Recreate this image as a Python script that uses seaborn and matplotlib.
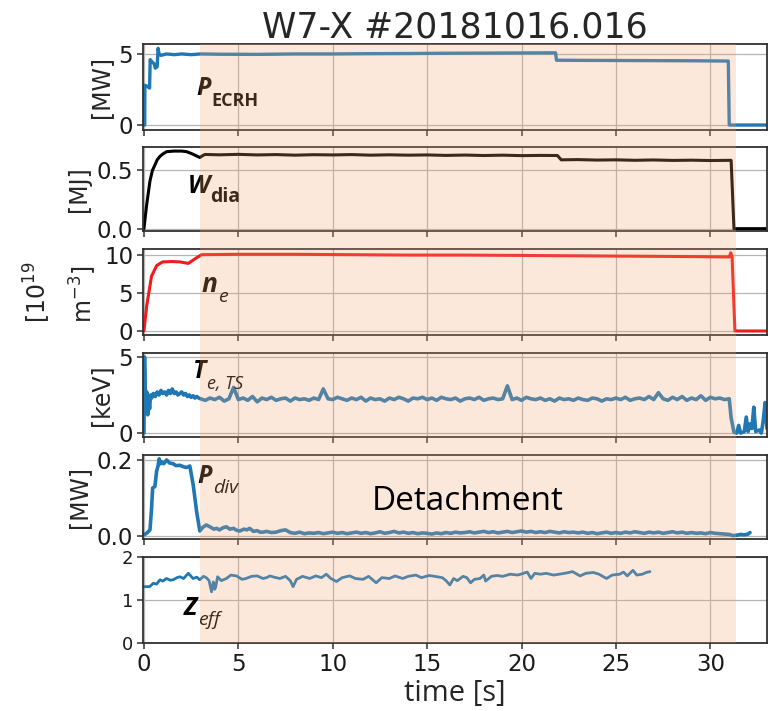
import numpy as np
import matplotlib
matplotlib.use("Agg")
import matplotlib.pyplot as plt
import matplotlib.transforms as mtransforms
from matplotlib.patches import Rectangle
import seaborn as sns

# ---------------- data ----------------
shot_title = "W7-X #20181016.016"
time_ticks = [0, 5, 10, 15, 20, 25, 30]
detach_start = 2.96
detach_end = 31.37

# ECRH heating power [MW]
t_ecrh = [0, 0.04, 0.05, 0.2, 0.3, 0.33, 0.45, 0.55, 0.6, 0.7, 0.75, 0.8, 0.9, 1.2, 1.6,
          2.0, 2.5, 3.0, 4, 6, 8, 10, 12, 14, 16, 18, 20, 21.8, 21.85, 23, 25, 27, 29,
          30.95, 31.0, 33]
p_ecrh = [0, 0.0, 2.8, 2.7, 2.6, 4.6, 4.4, 4.3, 4.0, 4.1, 5.4, 5.0, 4.9, 5.0, 4.95,
          5.0, 4.95, 5.0, 4.98, 4.97, 5.0, 5.0, 5.02, 5.03, 5.05, 5.06, 5.07, 5.08, 4.56,
          4.55, 4.54, 4.53, 4.52, 4.5, 0.0, 0.0]

# diamagnetic energy [MJ]
t_wdia = [0, 0.14, 0.32, 0.45, 0.58, 0.7, 0.85, 1.0, 1.2, 1.6, 2.0, 2.26, 2.5, 2.7, 2.96,
          3.1, 3.23, 4, 5, 6, 7, 8, 9, 10, 11, 12, 13, 14, 15, 16, 17, 18, 19, 20, 21,
          21.9, 22.1, 23, 24, 25, 26, 27, 28, 29, 30, 31.1, 31.25, 33]
w_dia = [0, 0.2, 0.41, 0.5, 0.545, 0.59, 0.62, 0.64, 0.66, 0.665, 0.665, 0.66, 0.645, 0.63,
         0.61, 0.625, 0.636, 0.633, 0.637, 0.632, 0.635, 0.63, 0.634, 0.632, 0.635, 0.63,
         0.633, 0.63, 0.632, 0.628, 0.631, 0.627, 0.63, 0.626, 0.628, 0.627, 0.59, 0.592,
         0.588, 0.59, 0.586, 0.589, 0.585, 0.587, 0.584, 0.586, 0.0, 0.0]

# line-integrated electron density [1e19 m^-3]
t_ne = [0, 0.14, 0.4, 0.67, 0.85, 1.0, 1.5, 1.9, 2.35, 2.7, 3.05, 5, 8, 11, 14, 17, 20, 23,
        26, 29, 31.0, 31.08, 31.15, 31.3, 33]
n_e = [0, 3.2, 7.2, 8.6, 8.9, 9.1, 9.15, 9.1, 8.9, 9.5, 10.05, 10.1, 10.1, 10.05, 10.0,
       10.0, 9.95, 9.9, 9.85, 9.8, 9.75, 10.3, 9.8, 0.0, 0.0]

# Thomson scattering electron temperature [keV]
t_te_ramp = [0, 0.03, 0.06, 0.1, 0.15, 0.2, 0.25, 0.3, 0.35, 0.4, 0.5, 0.6, 0.7, 0.8, 0.9,
             1.0, 1.1, 1.2, 1.3, 1.4, 1.5, 1.6, 1.7, 1.8, 1.9, 2.0, 2.1, 2.2, 2.3, 2.4,
             2.5, 2.6, 2.7, 2.8, 2.9]
te_ramp = [0, 5.0, 3.2, 2.0, 2.7, 1.2, 2.2, 1.6, 2.5, 2.3, 2.6, 2.4, 2.7, 2.5, 2.8,
           2.6, 2.7, 2.5, 2.8, 2.6, 2.9, 2.6, 2.7, 2.5, 2.6, 2.7, 2.5, 2.6, 2.4, 2.5,
           2.35, 2.45, 2.3, 2.4, 2.3]
t_te_flat = np.linspace(3.0, 30.75, 112)
te_flat = [2.25, 2.15, 2.30, 2.20, 2.35, 2.10, 2.25, 3.00,
           2.20, 2.30, 2.15, 2.40, 2.05, 2.30, 2.20, 2.35,
           2.15, 2.25, 2.30, 2.10, 2.30, 2.20, 2.25, 2.15,
           2.30, 2.20, 2.90, 2.25, 2.20, 2.35, 2.25, 2.15,
           2.30, 2.20, 2.35, 2.10, 2.30, 2.20, 2.25, 2.10,
           2.30, 2.20, 2.35, 2.25, 2.10, 2.30, 2.25, 2.35,
           2.20, 2.30, 2.15, 2.35, 2.25, 2.20, 2.30, 2.10,
           2.25, 2.30, 2.20, 2.35, 2.15, 2.25, 2.30, 2.20,
           2.25, 3.10, 2.20, 2.30, 2.15, 2.35, 2.25, 2.20,
           2.30, 2.15, 2.25, 2.10, 2.30, 2.20, 2.25, 2.15,
           2.30, 2.20, 2.15, 2.30, 2.25, 2.10, 2.25, 2.20,
           2.30, 2.20, 2.35, 2.15, 2.25, 2.30, 2.20, 2.40,
           2.20, 2.65, 2.25, 2.15, 2.35, 2.20, 2.40, 2.15,
           2.30, 2.20, 2.45, 2.15, 2.35, 2.25, 2.30, 2.20]
t_te_end = [31.0, 31.1, 31.25, 31.4, 31.5, 31.6, 31.8, 31.9, 32.0, 32.1, 32.2, 32.3, 32.4,
            32.6, 32.7, 32.8, 32.9, 33.0]
te_end = [2.25, 1.0, 0.05, 0.0, 0.5, 0.0, 0.1, 1.05, 0.1, 0.6, 0.3, 1.7, 0.1, 0.2, 0.0,
          0.8, 2.0, 0.3]

# divertor power [MW]
t_pdiv_ramp = [0, 0.14, 0.32, 0.4, 0.46, 0.58, 0.67, 0.75, 0.81, 0.88, 0.93, 1.05, 1.2,
               1.35, 1.55, 1.7, 1.9, 2.1, 2.26, 2.43, 2.61, 2.79, 2.96, 3.1, 3.3, 3.5,
               3.7, 3.85, 4.0, 4.2, 4.37, 4.55, 4.75, 4.9, 5.08, 5.3, 5.45, 5.6, 5.8,
               6.0, 6.15, 6.3, 6.5, 6.75]
pdiv_ramp = [0.003, 0.007, 0.016, 0.07, 0.126, 0.13, 0.17, 0.185, 0.203, 0.19, 0.195,
             0.19, 0.2, 0.192, 0.19, 0.185, 0.186, 0.182, 0.18, 0.184, 0.134, 0.064,
             0.013, 0.022, 0.029, 0.024, 0.018, 0.02, 0.016, 0.022, 0.024, 0.018, 0.02,
             0.015, 0.013, 0.018, 0.016, 0.02, 0.012, 0.014, 0.01, 0.01, 0.012, 0.009]
t_pdiv_flat = np.linspace(7.0, 30.75, 96)
pdiv_flat = [0.010, 0.014, 0.016, 0.009, 0.007, 0.010, 0.006, 0.008,
             0.007, 0.009, 0.006, 0.008, 0.010, 0.007, 0.009, 0.006,
             0.008, 0.010, 0.007, 0.009, 0.006, 0.008, 0.011, 0.007,
             0.009, 0.012, 0.008, 0.010, 0.007, 0.009, 0.006, 0.008,
             0.007, 0.005, 0.008, 0.006, 0.009, 0.007, 0.010, 0.008,
             0.009, 0.011, 0.008, 0.010, 0.012, 0.009, 0.011, 0.008,
             0.010, 0.012, 0.009, 0.011, 0.013, 0.010, 0.012, 0.009,
             0.011, 0.009, 0.012, 0.010, 0.008, 0.011, 0.009, 0.010,
             0.008, 0.010, 0.007, 0.009, 0.006, 0.008, 0.010, 0.007,
             0.009, 0.007, 0.010, 0.008, 0.011, 0.009, 0.007, 0.010,
             0.008, 0.010, 0.007, 0.009, 0.011, 0.008, 0.010, 0.007,
             0.009, 0.007, 0.008, 0.006, 0.009, 0.007, 0.006, 0.005]
t_pdiv_end = [31.0, 31.2, 31.4, 31.6, 31.8, 32.0, 32.1]
pdiv_end = [0.004, 0.001, 0.002, 0.004, 0.003, 0.005, 0.009]

# effective charge
t_zeff = [0, 0.3, 0.5, 0.67, 0.85, 1.0, 1.2, 1.4, 1.55, 1.75, 1.9, 2.1, 2.35, 2.5, 2.6,
          2.8, 2.96, 3.15, 3.3, 3.45, 3.58, 3.67, 3.75, 3.8, 3.9, 4.1, 4.37, 4.6, 4.9,
          5.2, 5.4, 5.7, 6.0, 6.3, 6.5, 6.67, 6.9, 7.2, 7.5, 7.75, 7.9, 8.08, 8.4, 8.78,
          9.1, 9.4, 9.66, 9.9, 10.2, 10.5, 10.9, 11.2, 11.6, 11.9, 12.3, 12.6, 13.0,
          13.3, 13.7, 14.0, 14.4, 14.7, 15.1, 15.4, 15.8, 16.0, 16.2, 16.4, 16.6, 16.9,
          17.1, 17.3, 17.5, 17.8, 18.0, 18.1, 18.4, 18.7, 19.0, 19.4, 19.8, 20.1, 20.3,
          20.5, 20.7, 21.0, 21.3, 21.7, 22.0, 22.4, 22.7, 23.1, 23.4, 23.8, 24.1, 24.5,
          24.8, 25.2, 25.4, 25.6, 25.9, 26.1, 26.4, 26.6, 26.8]
z_eff = [1.31, 1.31, 1.39, 1.37, 1.47, 1.44, 1.5, 1.46, 1.47, 1.52, 1.54, 1.5, 1.62, 1.55,
         1.5, 1.53, 1.47, 1.55, 1.52, 1.45, 1.19, 1.42, 1.25, 1.3, 1.54, 1.45, 1.5, 1.58,
         1.56, 1.48, 1.5, 1.55, 1.56, 1.5, 1.52, 1.56, 1.53, 1.5, 1.55, 1.45, 1.31, 1.48,
         1.55, 1.5, 1.56, 1.52, 1.6, 1.5, 1.43, 1.52, 1.56, 1.5, 1.48, 1.55, 1.4, 1.52,
         1.5, 1.56, 1.5, 1.55, 1.58, 1.52, 1.57, 1.55, 1.52, 1.45, 1.35, 1.5, 1.45, 1.55,
         1.52, 1.4, 1.48, 1.5, 1.58, 1.44, 1.55, 1.57, 1.55, 1.6, 1.58, 1.62, 1.65, 1.5,
         1.62, 1.6, 1.62, 1.58, 1.6, 1.63, 1.66, 1.56, 1.62, 1.64, 1.6, 1.5, 1.58, 1.6,
         1.65, 1.56, 1.69, 1.58, 1.6, 1.64, 1.66]

t_te = list(t_te_ramp) + list(t_te_flat) + list(t_te_end)
t_e = te_ramp + te_flat + te_end
t_pdiv = list(t_pdiv_ramp) + list(t_pdiv_flat) + list(t_pdiv_end)
p_div = pdiv_ramp + pdiv_flat + pdiv_end

# ---------------- style ----------------
sns.set_theme(style="whitegrid", rc={
    "axes.edgecolor": "#303030",
    "axes.linewidth": 1.3,
    "grid.color": "#b4b4b4",
    "grid.linewidth": 0.9,
    "xtick.bottom": True,
    "ytick.left": True,
    "xtick.major.size": 4.5,
    "ytick.major.size": 4,
    "xtick.major.width": 1.1,
    "ytick.major.width": 1.1,
    "xtick.color": "#303030",
    "ytick.color": "#303030",
    "xtick.labelcolor": "#1a1a1a",
    "ytick.labelcolor": "#1a1a1a",
    "xtick.major.pad": 3,
    "ytick.major.pad": 3,
})
plt.rcParams["font.family"] = ["DejaVu Sans"]

BLUE = "#1f77b4"
RED = "#ee1c1c"
BLACK = "#000000"
LABEL_FONT = "Open Sans"

fig = plt.figure(figsize=(7.68, 7.11), dpi=100)
W, H = 768.0, 711.0
panel_px = [(44, 130), (147, 231), (249, 335), (353, 437), (455, 539), (557, 643)]
left_px, right_px = 143, 767
axes = []
for top, bot in panel_px:
    rect = [left_px / W, 1 - bot / H, (right_px - left_px) / W, (bot - top) / H]
    ax = fig.add_axes(rect, sharex=axes[0] if axes else None)
    axes.append(ax)

series = [
    (t_ecrh, p_ecrh, BLUE, 2.4),
    (t_wdia, w_dia, BLACK, 2.2),
    (t_ne, n_e, RED, 2.2),
    (t_te, t_e, BLUE, 2.6),
    (t_pdiv, p_div, BLUE, 2.6),
    (t_zeff, z_eff, BLUE, 2.0),
]
for ax, (tt, vv, col, lw) in zip(axes, series):
    sns.lineplot(x=tt, y=vv, ax=ax, color=col, linewidth=lw, estimator=None,
                 sort=False, legend=False)

ylims = [(-0.35, 5.7), (-0.02, 0.7), (-0.53, 10.8), (-0.26, 5.26), (-0.008, 0.213), (0, 2)]
yticks = [[0, 5], [0.0, 0.5], [0, 5, 10], [0, 5], [0.0, 0.2], [0, 1, 2]]
ytlabels = [["0", "5"], ["0.0", "0.5"], ["0", "5", "10"], ["0", "5"], ["0.0", "0.2"],
            ["0", "1", "2"]]
ylabels = ["[MW]", "[MJ]", "[10$^{19}$\nm$^{-3}$]", "[keV]", "[MW]", ""]

for i, ax in enumerate(axes):
    ax.set_xlim(-0.05, 33)
    ax.set_ylim(*ylims[i])
    ax.set_yticks(yticks[i])
    ax.set_yticklabels(ytlabels[i], fontsize=13 if i == 5 else 16.5)
    ax.set_xticks(time_ticks)
    ax.grid(True)
    for s in ax.spines.values():
        s.set_visible(True)
    if i < 5:
        ax.tick_params(axis="x", labelbottom=False)
    ax.set_xlabel("")
    if ylabels[i]:
        ax.set_ylabel(ylabels[i], fontsize=17, labelpad=4,
                      multialignment="left", linespacing=1.6)

axes[-1].set_xticklabels([str(v) for v in time_ticks], fontsize=16.5)
axes[-1].set_xlabel("time [s]", fontsize=21, family=LABEL_FONT, labelpad=2)
axes[0].set_title(shot_title, fontsize=25, pad=3)


def tag(ax, x, y, main, sub, main_size, sub_size, sub_style, sub_weight, dy=-6):
    m = ax.text(x, y, main, fontsize=main_size, family=LABEL_FONT, style="italic",
                weight="bold", color=BLACK, va="baseline", ha="left")
    ax.annotate(sub, xy=(1, 0), xycoords=m, xytext=(0.5, dy), textcoords="offset points",
                fontsize=sub_size, family=LABEL_FONT, style=sub_style,
                weight=sub_weight, color=BLACK, va="bottom", ha="left")


tag(axes[0], 2.75, 2.08, "P", "ECRH", 18, 13, "normal", "bold")
tag(axes[1], 2.3, 0.305, "W", "dia", 18, 14, "normal", "bold")
tag(axes[2], 3.05, 5.2, "n", "e", 19, 14, "italic", "normal")
tag(axes[3], 2.6, 3.6, "T", "e, TS", 18, 13, "italic", "normal")
tag(axes[4], 2.85, 0.14, "P", "div", 18, 14, "italic", "normal")
tag(axes[5], 2.1, 0.65, "Z", "eff", 18, 14, "italic", "normal")

# detachment phase, shaded across all panels
blend = mtransforms.blended_transform_factory(axes[-1].transData, fig.transFigure)
y0 = 1 - panel_px[-1][1] / H
y1 = 1 - panel_px[0][0] / H
fig.add_artist(Rectangle((detach_start, y0), detach_end - detach_start, y1 - y0,
                         transform=blend, facecolor="#f3a773", alpha=0.25,
                         edgecolor="none", zorder=1))
fig.text(12.06, 0.068, "Detachment", transform=axes[4].transData, fontsize=24,
         family=LABEL_FONT, color=BLACK, va="baseline", ha="left", zorder=5)

fig.savefig("out.png", dpi=100)
